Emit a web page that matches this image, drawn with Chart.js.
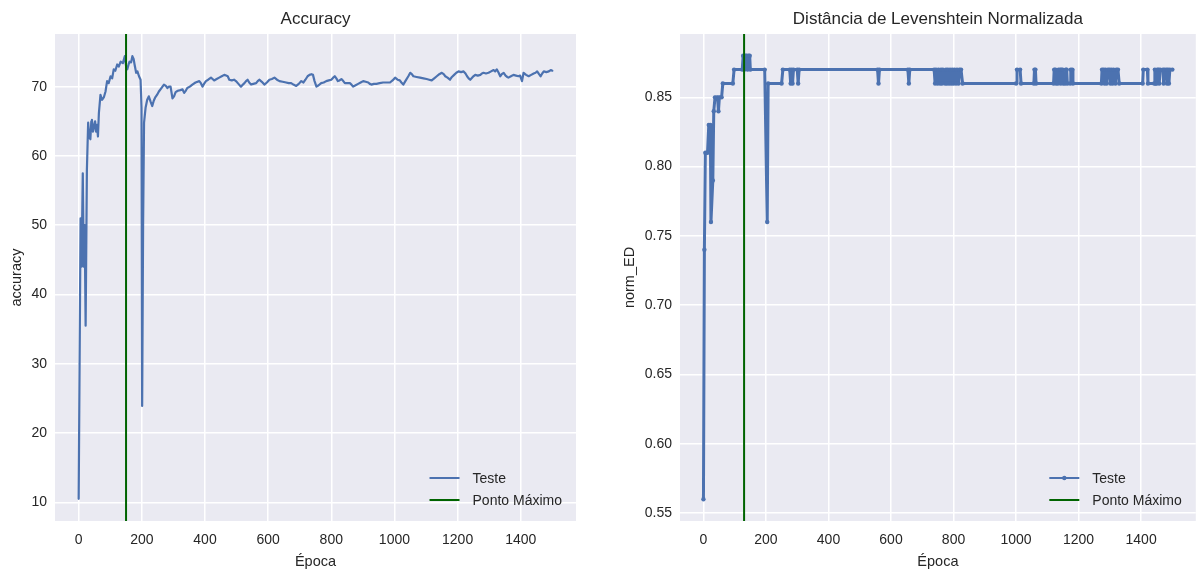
<!DOCTYPE html>
<html>
<head>
<meta charset="utf-8">
<script src="https://cdn.jsdelivr.net/npm/chart.js@4.4.1/dist/chart.umd.min.js"></script>
<style>
  body { margin: 0; background: #fff; }
  #wrap { position: relative; width: 1198px; height: 571px; }
  canvas { position: absolute; top: 0; }
</style>
</head>
<body>
<div id="wrap">
  <canvas id="acc-chart" width="600" height="571" style="left:0"></canvas>
  <canvas id="ned-chart" width="598" height="571" style="left:600px"></canvas>
</div>
<script>
// --- data ---
var xTicks = [0, 200, 400, 600, 800, 1000, 1200, 1400];
var accTicks = [10, 20, 30, 40, 50, 60, 70];
var nedTicks = [0.55, 0.60, 0.65, 0.70, 0.75, 0.80, 0.85];

var accBestEpoch = 150;
var nedBestEpoch = 130;

var accEpochs = [0, 6, 9, 13, 16, 19, 22, 26, 30, 33, 37, 40, 42, 45, 48, 52, 55, 58, 61, 64,
  69, 74, 80, 85, 90, 95, 101, 106, 111, 116, 122, 127, 133, 140, 146, 150, 154, 158, 161, 166,
  170, 174, 177, 182, 186, 191, 196, 199, 201, 204, 207, 212, 217, 222, 228, 233, 238, 242, 248, 254,
  262, 270, 276, 281, 286, 291, 297, 302, 307, 314, 322, 329, 334, 339, 344, 352, 360, 370, 382, 387,
  392, 397, 403, 410, 419, 424, 429, 437, 445, 453, 461, 467, 472, 477, 485, 492, 498, 506, 514, 520,
  525, 530, 535, 540, 546, 553, 562, 567, 572, 580, 588, 596, 604, 612, 620, 628, 636, 646, 657, 665,
  673, 680, 689, 697, 705, 712, 718, 725, 731, 737, 742, 747, 753, 760, 768, 776, 784, 792, 800, 806,
  811, 816, 821, 826, 832, 838, 843, 851, 859, 864, 869, 877, 885, 893, 901, 909, 917, 922, 927, 935,
  943, 953, 964, 975, 986, 994, 1002, 1010, 1017, 1022, 1028, 1036, 1044, 1050, 1055, 1060, 1070, 1081, 1092, 1102,
  1110, 1118, 1126, 1134, 1142, 1150, 1156, 1161, 1168, 1176, 1182, 1189, 1196, 1203, 1211, 1219, 1225, 1230, 1235, 1240,
  1248, 1256, 1264, 1272, 1277, 1282, 1290, 1298, 1306, 1314, 1319, 1324, 1330, 1335, 1340, 1346, 1352, 1357, 1361, 1369,
  1377, 1385, 1393, 1398, 1404, 1409, 1417, 1425, 1433, 1441, 1447, 1452, 1458, 1463, 1468, 1473, 1481, 1489, 1495, 1500];
var accValues = [10.5, 51, 44, 57.5, 44, 50, 35.5, 58, 64.8, 63, 62.4, 65, 65.2, 63.5, 64.1, 65, 63.5, 64.5, 62.8, 66.2,
  68.8, 68.1, 68.5, 69.3, 70.8, 70.5, 71.5, 71.2, 72.5, 72.3, 73.2, 72.9, 73.6, 73.4, 74.4, 73.0, 72.5, 73.2, 73.6, 73.5,
  74.4, 74.0, 73.2, 72.0, 72.2, 71.5, 71.0, 67, 23.9, 50, 64.8, 67, 68.1, 68.6, 67.8, 67.2, 68.0, 68.4, 68.8, 69.3,
  69.8, 70.3, 70.1, 69.8, 70.0, 70.0, 68.3, 68.6, 69.2, 69.4, 69.5, 69.6, 69.1, 69.4, 69.8, 70.0, 70.3, 70.6, 70.8, 70.5,
  70.0, 70.4, 70.8, 71.0, 71.3, 71.1, 70.9, 71.1, 71.3, 71.5, 71.7, 71.6, 71.5, 71.0, 70.9, 71.0, 70.8, 70.4, 70.0, 70.3,
  70.5, 70.8, 71.0, 70.6, 70.3, 70.4, 70.5, 70.8, 71.0, 70.7, 70.3, 70.6, 71.0, 71.1, 71.3, 71.0, 70.8, 70.7, 70.6, 70.5,
  70.5, 70.3, 70.1, 70.4, 70.8, 70.6, 71.0, 71.5, 71.7, 71.8, 71.7, 70.8, 70.0, 70.2, 70.5, 70.6, 70.8, 70.9, 71.0, 71.3,
  71.5, 71.2, 70.8, 70.9, 71.1, 70.8, 70.5, 70.5, 70.5, 70.3, 70.0, 70.2, 70.4, 70.6, 70.8, 70.7, 70.6, 70.4, 70.3, 70.4,
  70.4, 70.5, 70.6, 70.6, 70.6, 70.9, 71.3, 71.0, 70.9, 70.6, 70.3, 70.9, 71.5, 72.0, 71.8, 71.5, 71.4, 71.3, 71.2, 71.1,
  71.0, 70.9, 71.2, 71.5, 71.8, 72.0, 71.8, 71.5, 71.3, 71.0, 71.4, 71.7, 72.0, 72.2, 72.1, 72.2, 71.9, 71.5, 71.2, 71.0,
  71.4, 71.7, 71.6, 71.7, 71.9, 72.0, 71.9, 72.0, 72.2, 72.4, 72.2, 72.5, 72.0, 71.5, 71.8, 72.0, 71.6, 71.4, 71.3, 71.5,
  71.7, 71.6, 71.5, 71.6, 70.8, 72.0, 71.7, 71.5, 71.7, 71.9, 72.0, 72.2, 71.8, 71.5, 71.9, 72.2, 72.1, 72.2, 72.4, 72.3];

var nedEpochs = [0, 3, 6, 13, 17, 22, 24, 30, 33, 37, 45, 48, 51, 58, 62, 94, 98, 124, 127, 131,
  134, 138, 141, 144, 148, 150, 196, 204, 207, 250, 254, 276, 279, 282, 285, 288, 300, 303, 306, 557,
  560, 563, 654, 657, 660, 738, 741, 744, 749, 752, 757, 760, 763, 766, 773, 776, 779, 782, 786, 789,
  793, 796, 800, 803, 808, 811, 816, 819, 824, 829, 1000, 1003, 1013, 1016, 1057, 1059, 1062, 1064, 1120, 1122,
  1126, 1128, 1134, 1136, 1141, 1143, 1145, 1149, 1151, 1157, 1159, 1162, 1164, 1173, 1175, 1180, 1182, 1273, 1275, 1280,
  1283, 1286, 1290, 1294, 1299, 1302, 1305, 1309, 1312, 1318, 1321, 1326, 1330, 1405, 1407, 1420, 1422, 1442, 1444, 1446,
  1450, 1452, 1456, 1458, 1461, 1470, 1472, 1475, 1481, 1483, 1486, 1489, 1492, 1500];
var nedValues = [0.56, 0.74, 0.81, 0.81, 0.83, 0.83, 0.76, 0.79, 0.84, 0.85, 0.85, 0.84, 0.85, 0.85, 0.86, 0.86, 0.87, 0.87, 0.88, 0.87,
  0.88, 0.88, 0.87, 0.88, 0.88, 0.87, 0.87, 0.76, 0.86, 0.86, 0.87, 0.87, 0.86, 0.87, 0.86, 0.87, 0.87, 0.86, 0.87, 0.87,
  0.86, 0.87, 0.87, 0.86, 0.87, 0.87, 0.86, 0.87, 0.86, 0.87, 0.86, 0.87, 0.86, 0.87, 0.86, 0.87, 0.86, 0.87, 0.86, 0.87,
  0.86, 0.87, 0.86, 0.87, 0.86, 0.87, 0.86, 0.87, 0.87, 0.86, 0.86, 0.87, 0.87, 0.86, 0.86, 0.87, 0.87, 0.86, 0.86, 0.87,
  0.87, 0.86, 0.86, 0.87, 0.87, 0.86, 0.87, 0.87, 0.86, 0.86, 0.87, 0.87, 0.86, 0.86, 0.87, 0.87, 0.86, 0.86, 0.87, 0.87,
  0.86, 0.87, 0.86, 0.87, 0.87, 0.86, 0.87, 0.86, 0.87, 0.86, 0.87, 0.87, 0.86, 0.86, 0.87, 0.87, 0.86, 0.86, 0.87, 0.86,
  0.86, 0.87, 0.87, 0.86, 0.87, 0.87, 0.86, 0.87, 0.87, 0.86, 0.87, 0.86, 0.87, 0.87];

var blue = '#4C72B0';
var green = '#006400';
var textColor = '#262626';
var fontFamily = '"Liberation Sans", Arial, sans-serif';

Chart.defaults.color = textColor;
Chart.defaults.font.family = fontFamily;

function toPoints(xs, ys) {
  return xs.map(function(x, i) { return {x: x, y: ys[i]}; });
}

// grey plot background like seaborn darkgrid, title centred over the plot area
var bgPlugin = {
  id: 'plotBg',
  beforeDraw: function(chart, args, opts) {
    var a = chart.chartArea, ctx = chart.ctx;
    ctx.save();
    ctx.fillStyle = '#EAEAF2';
    ctx.fillRect(a.left, a.top, a.right - a.left, a.bottom - a.top);
    ctx.fillStyle = textColor;
    ctx.font = '17px ' + fontFamily;
    ctx.textAlign = 'center';
    ctx.textBaseline = 'middle';
    ctx.fillText(opts.title, (a.left + a.right) / 2, 19);
    ctx.restore();
  }
};

// frameless legend in lower right corner of the plot
var legendPlugin = {
  id: 'cornerLegend',
  afterDraw: function(chart) {
    var a = chart.chartArea, ctx = chart.ctx;
    var sets = chart.data.datasets;
    ctx.save();
    ctx.font = '14px ' + fontFamily;
    var maxW = 0;
    sets.forEach(function(ds) { maxW = Math.max(maxW, ctx.measureText(ds.label).width); });
    var textX = a.right - 14 - maxW;
    sets.forEach(function(ds, i) {
      var y = a.bottom - 43 + i * 22;
      ctx.strokeStyle = ds.borderColor;
      ctx.lineWidth = 2;
      ctx.beginPath();
      ctx.moveTo(textX - 43, y);
      ctx.lineTo(textX - 13, y);
      ctx.stroke();
      if (ds.pointRadius > 0) {
        ctx.fillStyle = ds.borderColor;
        ctx.beginPath();
        ctx.arc(textX - 28, y, 2.2, 0, Math.PI * 2);
        ctx.fill();
      }
      ctx.fillStyle = textColor;
      ctx.textBaseline = 'middle';
      ctx.fillText(ds.label, textX, y + 1);
    });
    ctx.restore();
  }
};

function makeChart(id, opts) {
  var ctx = document.getElementById(id).getContext('2d');
  return new Chart(ctx, {
    type: 'line',
    data: {
      datasets: [{
        label: 'Teste',
        data: toPoints(opts.epochs, opts.values),
        borderColor: blue,
        backgroundColor: blue,
        borderWidth: opts.lineWidth,
        borderJoinStyle: 'round',
        borderCapStyle: 'round',
        pointRadius: opts.pointRadius,
        pointHoverRadius: 0,
        pointBorderWidth: 0,
        tension: 0
      }, {
        label: 'Ponto Máximo',
        data: [{x: opts.best, y: opts.yMin}, {x: opts.best, y: opts.yMax}],
        borderColor: green,
        borderWidth: 2,
        pointRadius: 0,
        order: -1
      }]
    },
    options: {
      responsive: false,
      animation: false,
      layout: { padding: { left: 0, right: opts.padRight, top: 34, bottom: 0 } },
      plugins: {
        legend: { display: false },
        tooltip: { enabled: false },
        title: { display: false },
        plotBg: { title: opts.title }
      },
      scales: {
        x: {
          type: 'linear',
          min: -75,
          max: 1575,
          afterBuildTicks: function(scale) {
            scale.ticks = xTicks.map(function(v) { return {value: v}; });
          },
          afterFit: function(scale) { scale.height = 50; },
          ticks: {
            font: { size: 14 },
            padding: 11,
            maxRotation: 0,
            callback: function(v) { return String(v); }
          },
          grid: { color: '#ffffff', lineWidth: 1.5, drawTicks: false },
          border: { display: false },
          title: { display: true, text: 'Época', font: { size: 14.5 }, padding: { top: 0, bottom: 0 } }
        },
        y: {
          type: 'linear',
          min: opts.yMin,
          max: opts.yMax,
          afterBuildTicks: function(scale) {
            scale.ticks = opts.yTicks.map(function(v) { return {value: v}; });
          },
          afterFit: function(scale) { scale.width = opts.yWidth; },
          ticks: {
            font: { size: 14 },
            padding: 8,
            callback: function(v) { return opts.decimals ? v.toFixed(opts.decimals) : String(v); }
          },
          grid: { color: '#ffffff', lineWidth: 1.5, drawTicks: false },
          border: { display: false },
          title: { display: true, text: opts.yLabel, font: { size: 14.5 }, padding: { top: opts.yTitlePad, bottom: 0 } }
        }
      }
    },
    plugins: [bgPlugin, legendPlugin]
  });
}

makeChart('acc-chart', {
  title: 'Accuracy', yLabel: 'accuracy',
  epochs: accEpochs, values: accValues, best: accBestEpoch,
  yMin: 7.3, yMax: 77.6, yTicks: accTicks, decimals: 0,
  yWidth: 55, yTitlePad: 8, padRight: 24,
  lineWidth: 2.2, pointRadius: 0
});

makeChart('ned-chart', {
  title: 'Distância de Levenshtein Normalizada', yLabel: 'norm_ED',
  epochs: nedEpochs, values: nedValues, best: nedBestEpoch,
  yMin: 0.5443, yMax: 0.8957, yTicks: nedTicks, decimals: 2,
  yWidth: 80, yTitlePad: 21, padRight: 1,
  lineWidth: 3, pointRadius: 2.2
});
</script>
</body>
</html>
